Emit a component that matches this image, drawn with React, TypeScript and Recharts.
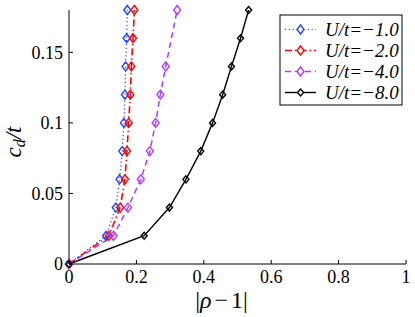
import React from "react";
import { LineChart, Line, XAxis, YAxis, Customized } from "recharts";

// y-levels (c_d / t) at which points were computed
const levels = [0, 0.02, 0.04, 0.06, 0.08, 0.1, 0.12, 0.14, 0.16, 0.18];
const levelsU4 = [0, 0.02, 0.04, 0.06, 0.08, 0.1, 0.12, 0.14, 0.18];
// |rho - 1| values per series
const rhoU1 = [0, 0.11, 0.139, 0.15, 0.158, 0.163, 0.166, 0.168, 0.171, 0.173];
const rhoU2 = [0, 0.118, 0.152, 0.166, 0.172, 0.177, 0.182, 0.185, 0.19, 0.194];
const rhoU4 = [0, 0.132, 0.175, 0.213, 0.24, 0.257, 0.271, 0.287, 0.321];
const rhoU8 = [0, 0.223, 0.298, 0.347, 0.391, 0.426, 0.456, 0.482, 0.509, 0.533];

const seriesNames = ["U/t=\u22121.0", "U/t=\u22122.0", "U/t=\u22124.0", "U/t=\u22128.0"];
const xTicks = [0, 0.2, 0.4, 0.6, 0.8, 1];
const yTicks = [0, 0.05, 0.1, 0.15];

const toPoints = (xs: number[], ys: number[]) => xs.map((x, i) => ({ x, y: ys[i] }));

const series = [
  { name: seriesNames[0], data: toPoints(rhoU1, levels), color: "#1e46ff", dash: "1.2 2.6", width: 1.2, mw: 3.5, mh: 4.5 },
  { name: seriesNames[1], data: toPoints(rhoU2, levels), color: "#ff0000", dash: "7 3 1.5 3", width: 1.6, mw: 3.5, mh: 4.5 },
  { name: seriesNames[2], data: toPoints(rhoU4, levelsU4), color: "#b03cff", dash: "6 4", width: 1.5, mw: 3.5, mh: 4.5 },
  { name: seriesNames[3], data: toPoints(rhoU8, levels), color: "#000000", dash: undefined as string | undefined, width: 1.4, mw: 3, mh: 3.5 },
];

const FONT = '"Liberation Serif", "Times New Roman", serif';

const diamondPath = (cx: number, cy: number, w: number, h: number) =>
  `M${cx},${cy - h}L${cx + w},${cy}L${cx},${cy + h}L${cx - w},${cy}Z`;

const makeDot = (color: string, w: number, h: number) => (props: any) => {
  const { cx, cy, index } = props;
  if (cx == null || cy == null) return <g key={`d-${index}`} />;
  return (
    <path
      key={`d-${index}`}
      d={diamondPath(cx, cy, w, h)}
      fill="none"
      stroke={color}
      strokeWidth={1.4}
    />
  );
};

const LegendBox = () => {
  const rowY = [29.5, 50.5, 71.5, 92.5];
  return (
    <g>
      <rect x={280} y={15} width={122} height={90} fill="#fff" stroke="#000" strokeWidth={1} />
      {series.map((s, i) => (
        <g key={s.name}>
          <line
            x1={285}
            x2={316}
            y1={rowY[i]}
            y2={rowY[i]}
            stroke={s.color}
            strokeWidth={s.width}
            strokeDasharray={s.dash}
          />
          <path d={diamondPath(300.5, rowY[i], s.mw, s.mh)} fill="#fff" stroke={s.color} strokeWidth={1.4} />
          <text
            x={325}
            y={rowY[i] + 6}
            fontFamily={FONT}
            fontStyle="italic"
            fontSize={19}
            fill="#000"
          >
            {s.name}
          </text>
        </g>
      ))}
    </g>
  );
};

const AxisTitles = () => (
  <g>
    <text x={221.5} y={308} textAnchor="middle" fontFamily={FONT} fontSize={24} fill="#000">
      <tspan>|</tspan>
      <tspan fontStyle="italic">{"\u03c1"}</tspan>
      <tspan dx={3}>{"\u2212"}</tspan>
      <tspan dx={3}>1</tspan>
      <tspan>|</tspan>
    </text>
    <text
      transform="translate(21,142) rotate(-90)"
      textAnchor="middle"
      fontFamily={FONT}
      fontStyle="italic"
      fontSize={23}
      fill="#000"
    >
      <tspan>c</tspan>
      <tspan fontSize={16} dy={4}>d</tspan>
      <tspan dy={-4}>/t</tspan>
    </text>
  </g>
);

const tickStyle = { fill: "#000", fontSize: 18, fontFamily: FONT };

export default function App() {
  return (
    <div style={{ width: 415, height: 317, background: "#fff" }}>
      <style>{`body{margin:0;background:#fff}`}</style>
      <LineChart width={415} height={317} margin={{ top: 10, right: 9, bottom: 0, left: 0 }}>
        <XAxis
          xAxisId="b"
          dataKey="x"
          type="number"
          domain={[0, 1]}
          ticks={xTicks}
          height={53}
          tickSize={-4}
          tickMargin={10}
          axisLine={{ stroke: "#000" }}
          tickLine={{ stroke: "#000" }}
          tick={tickStyle}
          allowDuplicatedCategory={false}
        />
        <XAxis
          xAxisId="t"
          dataKey="x"
          type="number"
          orientation="top"
          domain={[0, 1]}
          ticks={xTicks}
          height={0}
          tickSize={-4}
          tickFormatter={() => ""}
          axisLine={{ stroke: "#000" }}
          tickLine={{ stroke: "#000" }}
        />
        <YAxis
          yAxisId="l"
          type="number"
          domain={[0, 0.18]}
          ticks={yTicks}
          width={69}
          tickSize={-4}
          tickMargin={10}
          axisLine={{ stroke: "#000" }}
          tickLine={{ stroke: "#000" }}
          tick={tickStyle}
        />
        <YAxis
          yAxisId="r"
          type="number"
          orientation="right"
          domain={[0, 0.18]}
          ticks={yTicks}
          width={0}
          tickSize={-4}
          tickFormatter={() => ""}
          axisLine={{ stroke: "#000" }}
          tickLine={{ stroke: "#000" }}
        />
        {series.map((s) => (
          <Line
            key={s.name}
            xAxisId="b"
            yAxisId="l"
            data={s.data}
            dataKey="y"
            name={s.name}
            type="linear"
            stroke={s.color}
            strokeWidth={s.width}
            strokeDasharray={s.dash}
            dot={makeDot(s.color, s.mw, s.mh)}
            activeDot={false}
            isAnimationActive={false}
          />
        ))}
        <Customized component={LegendBox} />
        <Customized component={AxisTitles} />
      </LineChart>
    </div>
  );
}
